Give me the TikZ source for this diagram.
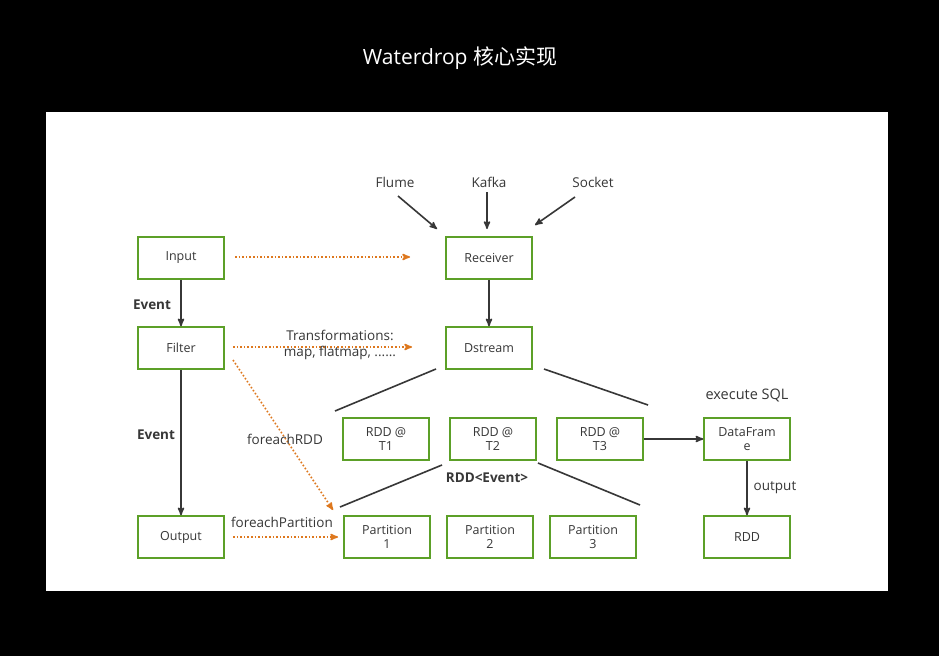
\documentclass[tikz,border=0pt]{standalone}
\usepackage{fontspec}
\setmainfont{Open Sans}
\newfontfamily\cjk{Noto Sans CJK SC}
\usetikzlibrary{arrows}
\definecolor{boxgreen}{RGB}{92,160,40}
\definecolor{dotorange}{RGB}{222,120,30}
\definecolor{ink}{RGB}{55,55,55}
\begin{document}
\begin{tikzpicture}[x=1pt,y=-1pt,>=stealth',thick,
                    main node/.style={rectangle,draw=boxgreen,line width=1.5pt,minimum width=86pt,minimum height=42pt,
                      align=center,font=\fontsize{12.5}{14}\selectfont,text=ink,inner sep=1pt},
                    lbl/.style={font=\fontsize{13.5}{16}\selectfont,text=ink,align=center,inner sep=0pt},
                    blbl/.style={lbl,font=\fontsize{13.5}{16}\selectfont\bfseries},
                    flow/.style={->,draw=ink,line width=1.6pt},
                    dots/.style={->,draw=dotorange,dotted,line width=1.6pt}]
  \fill[black] (0,0) rectangle (939,656);
  \fill[white] (46,112) rectangle (888,591);
  \node[text=white,font=\fontsize{21}{24}\selectfont] (title) at (460,58) {Waterdrop {\cjk 核心实现}};
  \node[main node] (1) at (181,258) {Input};
  \node[main node] (2) at (181,348) {Filter};
  \node[main node] (3) at (181,537) {Output};
  \node[main node] (4) at (489,258) {Receiver};
  \node[main node] (5) at (489,348) {Dstream};
  \node[main node] (6) at (386,439) {RDD @\\T1};
  \node[main node] (7) at (493,439) {RDD @\\T2};
  \node[main node] (8) at (600,439) {RDD @\\T3};
  \node[main node] (9) at (747,439) {DataFram\\e};
  \node[main node] (10) at (387,537) {Partition\\1};
  \node[main node] (11) at (490,537) {Partition\\2};
  \node[main node] (12) at (593,537) {Partition\\3};
  \node[main node] (13) at (747,537) {RDD};
  \node[lbl] (flume) at (395,182) {Flume};
  \node[lbl] (kafka) at (489,182) {Kafka};
  \node[lbl] (socket) at (593,182) {Socket};
  \coordinate (f1) at (398,196); \coordinate (f2) at (437,229);
  \coordinate (k1) at (487,192); \coordinate (k2) at (487,229);
  \coordinate (s1) at (575,197); \coordinate (s2) at (535,225);
  \coordinate (a1) at (436,369); \coordinate (a2) at (335,411);
  \coordinate (b1) at (544,369); \coordinate (b2) at (648,405);
  \coordinate (c1) at (442,465); \coordinate (c2) at (340,507);
  \coordinate (d1) at (538,463); \coordinate (d2) at (640,505);
  \coordinate (e1) at (235,257); \coordinate (e2) at (410,257);
  \coordinate (g1) at (233,347); \coordinate (g2) at (412,347);
  \coordinate (h1) at (233,360); \coordinate (h2) at (333,510);
  \coordinate (o1) at (233,537); \coordinate (o2) at (338,537);
  \draw[flow] (f1) -- (f2);
  \draw[flow] (k1) -- (k2);
  \draw[flow] (s1) -- (s2);
  \draw[flow] (1) -- (2);
  \draw[flow] (2) -- (3);
  \draw[flow] (4) -- (5);
  \draw[flow] (8) -- (9);
  \draw[flow] (9) -- (13);
  \draw[draw=ink,line width=1.6pt] (a1) -- (a2) (b1) -- (b2) (c1) -- (c2) (d1) -- (d2);
  \draw[dots] (e1) -- (e2);
  \draw[dots] (g1) -- (g2);
  \draw[dots] (h1) -- (h2);
  \draw[dots] (o1) -- (o2);
  \node[blbl] (ev1) at (152,305) {Event};
  \node[blbl] (ev2) at (156,435) {Event};
  \node[lbl] (tr) at (340,345) {Transformations:\\map, flatmap, ......};
  \node[lbl] (frdd) at (285,439) {foreachRDD};
  \node[lbl] (fpart) at (282,522) {foreachPartition};
  \node[lbl,font=\fontsize{14.5}{17}\selectfont] (sql) at (747,395) {execute SQL};
  \node[blbl] (rev) at (487,478) {RDD<Event>};
  \node[lbl] (out) at (775,488) {output};
\end{tikzpicture}
\end{document}
